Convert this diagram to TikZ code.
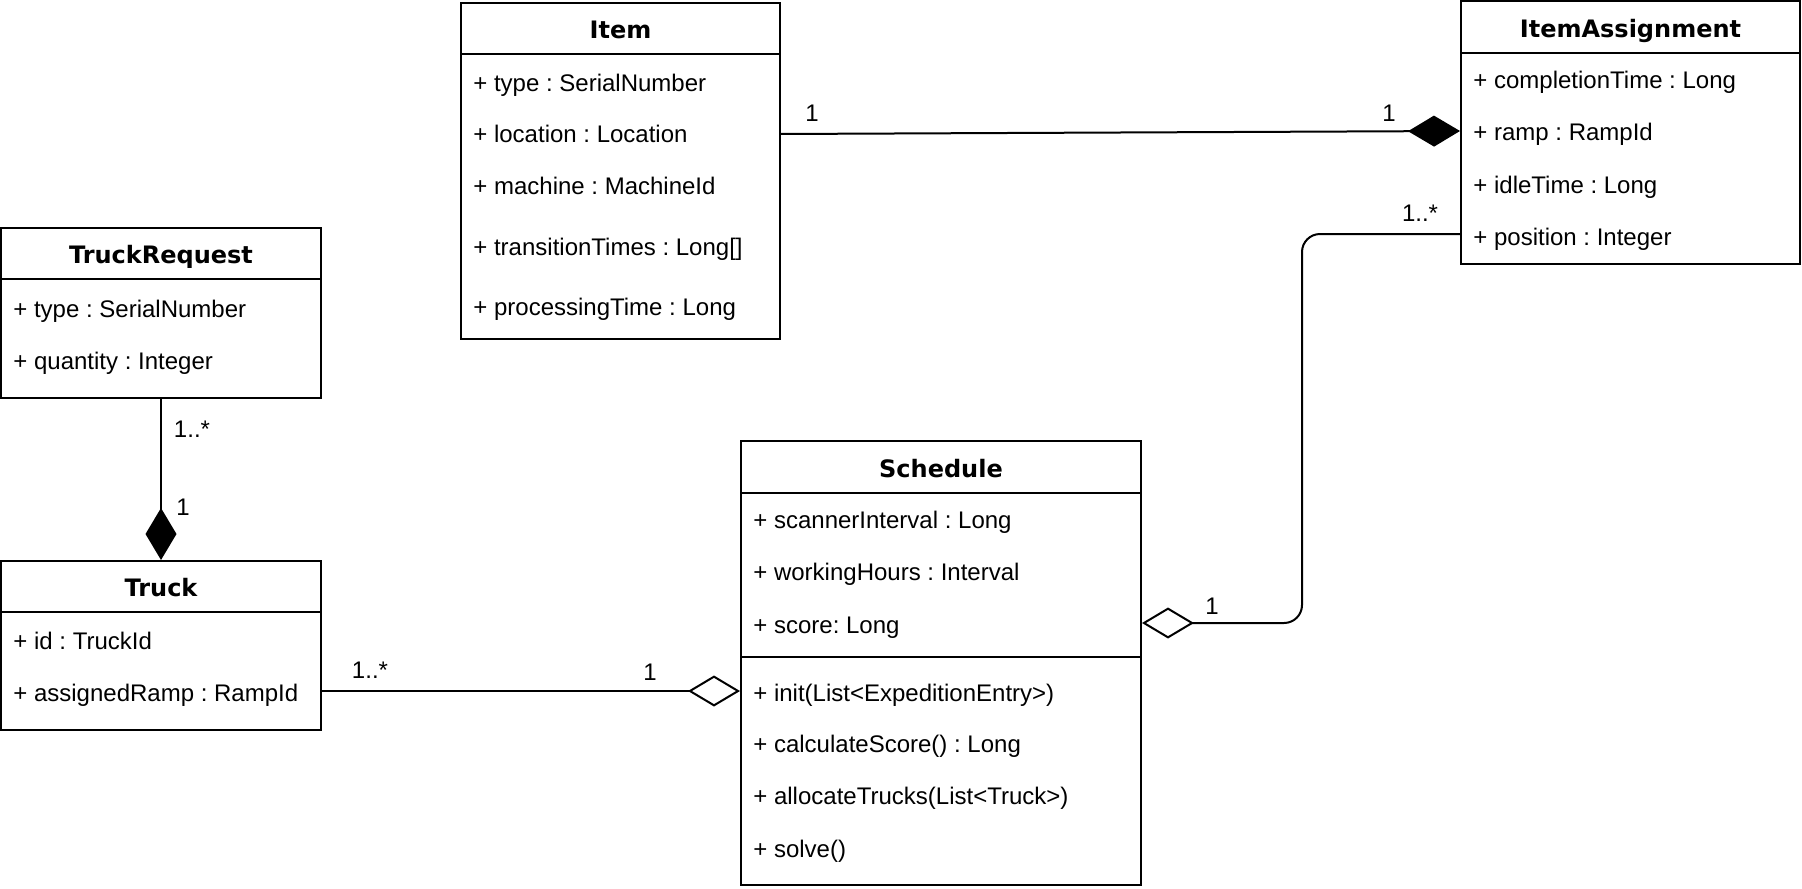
\documentclass[tikz,border=0pt]{standalone}
\usepackage{fontspec}
\setmainfont{Liberation Sans}
\newfontfamily\headfont{DejaVu Sans}
\usetikzlibrary{arrows.meta,fit}
\frenchspacing

\begin{document}
\begin{tikzpicture}[
  x=0.5pt, y=-0.5pt,
  font=\fontsize{12}{14}\selectfont,
  classbox/.style={draw, line width=1pt, inner sep=0pt},
  title/.style={font=\headfont\bfseries\fontsize{12}{14}\selectfont, inner sep=0pt, text height=8.7pt, text depth=0pt},
  attr/.style={anchor=west, inner sep=0pt, text height=8.6pt, text depth=0pt},
  mult/.style={inner sep=0pt, text height=8.6pt, text depth=0pt},
  divider/.style={line width=1pt},
  compose/.style={-{Diamond[length=26pt, width=15.5pt]}, line width=1pt},
  aggregate/.style={-{Diamond[open, length=26pt, width=15.5pt]}, line width=1pt}
]
\useasboundingbox (0,0) rectangle (1802,888);

% class boxes
\node[classbox, fit={(461,3) (780,339)}] (item) {};
\node[classbox, fit={(1461,1) (1800,264)}] (assign) {};
\node[classbox, fit={(1,228) (321,398)}] (treq) {};
\node[classbox, fit={(1,561) (321,730)}] (truck) {};
\node[classbox, fit={(741,441) (1141,885)}] (sched) {};

% compartments
\draw[divider] (item.west |- 0,54) -- (item.east |- 0,54);
\draw[divider] (assign.west |- 0,53) -- (assign.east |- 0,53);
\draw[divider] (treq.west |- 0,279) -- (treq.east |- 0,279);
\draw[divider] (truck.west |- 0,612) -- (truck.east |- 0,612);
\draw[divider] (sched.west |- 0,493) -- (sched.east |- 0,493);
\draw[divider] (sched.west |- 0,657) -- (sched.east |- 0,657);

% Item
\node[title] (item-title) at (620.5,30) {Item};
\node[attr] (item-type) at (473,83) {+ type : SerialNumber};
\node[attr] (item-loc) at (473,134) {+ location : Location};
\node[attr] (item-mach) at (473,186) {+ machine : MachineId};
\node[attr] (item-trans) at (473,247) {+ transitionTimes : Long[]};
\node[attr] (item-proc) at (473,307) {+ processingTime : Long};

% ItemAssignment
\node[title] (assign-title) at (1630.5,28.5) {ItemAssignment};
\node[attr] (assign-compl) at (1473,80) {+ completionTime : Long};
\node[attr] (assign-ramp) at (1473,132) {+ ramp : RampId};
\node[attr] (assign-idle) at (1473,185) {+ idleTime : Long};
\node[attr] (assign-pos) at (1473,237) {+ position : Integer};

% TruckRequest
\node[title] (treq-title) at (161,255) {TruckRequest};
\node[attr] (treq-type) at (13,309) {+ type : SerialNumber};
\node[attr] (treq-qty) at (13,361) {+ quantity : Integer};

% Truck
\node[title] (truck-title) at (161,588) {Truck};
\node[attr] (truck-id) at (13,641) {+ id : TruckId};
\node[attr] (truck-ramp) at (13,693) {+ assignedRamp : RampId};

% Schedule
\node[title] (sched-title) at (941,468.5) {Schedule};
\node[attr] (sched-scan) at (753,520) {+ scannerInterval : Long};
\node[attr] (sched-hours) at (753,572) {+ workingHours : Interval};
\node[attr] (sched-score) at (753,625) {+ score: Long};
\node[attr] (sched-init) at (753,693) {+ init(List<ExpeditionEntry>)};
\node[attr] (sched-calc) at (753,744) {+ calculateScore() : Long};
\node[attr] (sched-alloc) at (753,796) {+ allocateTrucks(List<Truck>)};
\node[attr] (sched-solve) at (753,849) {+ solve()};

% associations
\coordinate (bend) at (1302,234);
\coordinate (item-line) at (0,134);
\coordinate (ramp-line) at (0,131);
\coordinate (score-line) at (0,623);
\coordinate (init-line) at (0,691);
\draw[compose] (item.east |- item-line) -- (assign.west |- ramp-line);
\draw[compose] (treq.south) -- (truck.north);
\draw[aggregate] (truck.east |- init-line) -- (sched.west |- init-line);
\draw[aggregate, rounded corners=9pt] (assign.west |- bend) -| (bend |- score-line) -- (sched.east |- score-line);

% multiplicities
\node[mult] (m-item) at (812,113) {1};
\node[mult] (m-assign) at (1389,113) {1};
\node[mult] (m-pos) at (1420,213) {1..*};
\node[mult] (m-score) at (1212,606) {1};
\node[mult] (m-treq) at (192,429) {1..*};
\node[mult] (m-truck) at (183,507) {1};
\node[mult] (m-ramp) at (370,670) {1..*};
\node[mult] (m-init) at (650,672) {1};
\end{tikzpicture}
\end{document}
